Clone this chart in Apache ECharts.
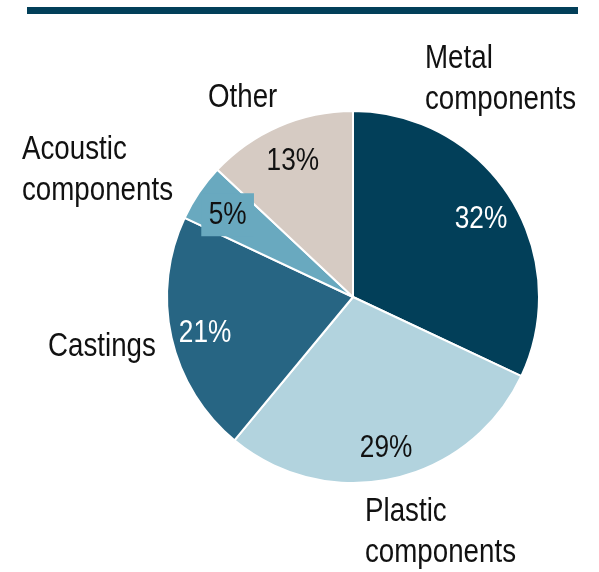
<!DOCTYPE html>
<html>
<head>
<meta charset="utf-8">
<script src="https://cdn.jsdelivr.net/npm/echarts@6/dist/echarts.min.js"></script>
<style>
  html, body { margin: 0; padding: 0; background: #ffffff; }
  #chart { width: 599px; height: 572px; }
</style>
</head>
<body>
<div id="chart"></div>
<script>
// Share of purchasing volume by component group (%)
const categories = ['Metal components', 'Plastic components', 'Castings', 'Acoustic components', 'Other'];
const shares = [32, 29, 21, 5, 13];
const sliceColors = ['#023f59', '#b2d3de', '#276583', '#69a9bf', '#d6cbc3'];
const valueTextColors = ['#ffffff', '#111111', '#ffffff', '#111111', '#111111'];

// Where each category caption sits (top-left corner of its text block)
const captionPos = [
  { x: 425, y: 38 },
  { x: 365, y: 491 },
  { x: 48, y: 326 },
  { x: 22, y: 129 },
  { x: 208, y: 77 }
];

const FONT_FAMILY = "'Liberation Sans', Arial, sans-serif";
const CAPTION_NARROW = 0.84;  // horizontal squeeze giving a condensed face
const VALUE_NARROW = 0.82;
const VALUE_RADIUS = 0.815;   // percentage labels sit at this fraction of the radius
const center = [353, 297];
const R = 186;

const chart = echarts.init(document.getElementById('chart'), null, { renderer: 'canvas' });

chart.setOption({
  animation: false,
  backgroundColor: '#ffffff',
  series: [{
    type: 'pie',
    center: center,
    radius: [0, R],
    startAngle: 90,
    clockwise: true,
    silent: true,
    itemStyle: { borderColor: '#ffffff', borderWidth: 2 },
    label: { show: false },
    labelLine: { show: false },
    data: categories.map((name, i) => ({
      name: name,
      value: shares[i],
      itemStyle: { color: sliceColors[i] }
    }))
  }]
});

// Read the slice geometry the pie layout produced
function sliceLayouts() {
  try {
    const data = chart.getModel().getSeriesByIndex(0).getData();
    return categories.map((_, i) => data.getItemLayout(i));
  } catch (e) {
    // same layout rule as the series: clockwise from 12 o'clock
    const total = shares.reduce((a, b) => a + b, 0);
    let acc = -Math.PI / 2;
    return shares.map(v => {
      const start = acc;
      acc += v / total * Math.PI * 2;
      return { cx: center[0], cy: center[1], r: R, startAngle: start, endAngle: acc };
    });
  }
}

const layouts = sliceLayouts();

const valueTexts = layouts.map((lay, i) => {
  const mid = (lay.startAngle + lay.endAngle) / 2;
  const style = {
    text: shares[i] + '%',
    font: '32px ' + FONT_FAMILY,
    fill: valueTextColors[i],
    textAlign: 'center',
    textVerticalAlign: 'middle',
    lineHeight: 32
  };
  if (categories[i] === 'Acoustic components') {
    style.backgroundColor = sliceColors[i];
    style.padding = [6, 9, 5, 9];
  }
  return {
    type: 'text',
    x: lay.cx + Math.cos(mid) * lay.r * VALUE_RADIUS,
    y: lay.cy + Math.sin(mid) * lay.r * VALUE_RADIUS + 3,
    scaleX: VALUE_NARROW,
    z: 10,
    silent: true,
    style: style
  };
});

const captionTexts = categories.map((name, i) => ({
  type: 'text',
  x: captionPos[i].x,
  y: captionPos[i].y,
  scaleX: CAPTION_NARROW,
  z: 10,
  silent: true,
  style: {
    text: name.replace(' ', '\n'),
    font: '33px ' + FONT_FAMILY,
    fill: '#111111',
    lineHeight: 41,
    textAlign: 'left',
    textVerticalAlign: 'top'
  }
}));

chart.setOption({
  graphic: [
    {
      type: 'rect',
      shape: { x: 27, y: 7, width: 551, height: 7 },
      style: { fill: '#023f59' }
    }
  ].concat(valueTexts, captionTexts)
});
</script>
</body>
</html>
